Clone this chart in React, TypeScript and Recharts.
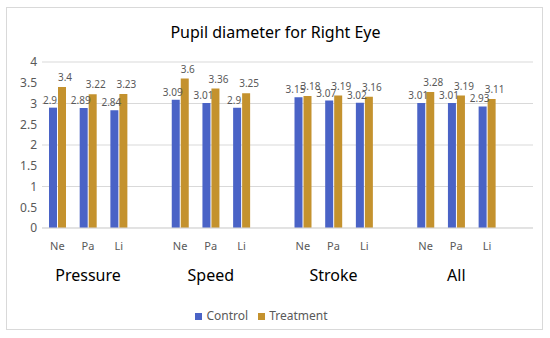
import React from 'react';
import {
    BarChart,
    Bar,
    XAxis,
    YAxis,
    CartesianGrid,
    Legend,
    LabelList,
} from 'recharts';

// Groups and sub-categories along the x axis
const GROUPS = ['Pressure', 'Speed', 'Stroke', 'All'];
const SUBS = ['Ne', 'Pa', 'Li'];

// Values per group, in SUBS order
const CONTROL = [2.9, 2.89, 2.84, 3.09, 3.01, 2.9, 3.15, 3.07, 3.02, 3.01, 3.01, 2.93];
const TREATMENT = [3.4, 3.22, 3.23, 3.6, 3.36, 3.25, 3.18, 3.19, 3.16, 3.28, 3.19, 3.11];

const Y_TICKS = [0, 0.5, 1, 1.5, 2, 2.5, 3, 3.5, 4];

const BLUE = '#4a63c6';
const GOLD = '#c4922e';
const TEXT = '#595959';
const GRID = '#d9d9d9';

// Build rows: three bars per group, then one empty slot
const chartData: { sub: string; group: string; control: number | null; treatment: number | null }[] = [];
GROUPS.forEach((g, gi) => {
    SUBS.forEach((s, si) => {
        chartData.push({
            sub: s,
            group: si === 1 ? g : '',
            control: CONTROL[gi * 3 + si],
            treatment: TREATMENT[gi * 3 + si],
        });
    });
    chartData.push({ sub: '', group: '', control: null, treatment: null });
});

const XTick = (props: any) => {
    const { x, y, index } = props;
    const row = chartData[index];
    if (!row) return null;
    return (
        <g>
            <text x={x} y={y + 14} textAnchor="middle" fontSize={11} fill={TEXT}>
                {row.sub}
            </text>
            {row.group && (
                <text x={x} y={y + 45} textAnchor="middle" fontSize={16} fill="#000">
                    {row.group}
                </text>
            )}
        </g>
    );
};

export default function App() {
    return (
        <div
            style={{
                position: 'absolute',
                left: 0,
                top: 0,
                width: 550,
                height: 338,
                background: '#fff',
                fontFamily: '"Noto Sans", sans-serif',
            }}
        >
            <div
                style={{
                    position: 'absolute',
                    left: 6,
                    top: 7,
                    width: 537,
                    height: 323,
                    border: `1px solid ${GRID}`,
                    boxSizing: 'border-box',
                }}
            />
            <div
                style={{
                    position: 'absolute',
                    top: 21,
                    left: 0,
                    width: 551,
                    textAlign: 'center',
                    fontSize: 16,
                    color: '#000',
                }}
            >
                Pupil diameter for Right Eye
            </div>
            <BarChart
                width={550}
                height={338}
                data={chartData}
                margin={{ top: 62, right: 17, bottom: 14, left: 0 }}
                barGap={1}
                style={{ position: 'absolute', left: 0, top: 0 }}
            >
                <CartesianGrid vertical={false} stroke={GRID} />
                <XAxis
                    dataKey="sub"
                    height={79}
                    interval={0}
                    tickLine={false}
                    axisLine={{ stroke: GRID }}
                    tick={<XTick />}
                />
                <YAxis
                    width={42}
                    domain={[0, 4]}
                    ticks={Y_TICKS}
                    axisLine={false}
                    tickLine={false}
                    tickSize={3}
                    tickMargin={2}
                    tick={{ fontSize: 12, fill: TEXT }}
                />
                <Legend
                    verticalAlign="bottom"
                    iconType="square"
                    iconSize={7}
                    wrapperStyle={{ fontSize: 12, color: TEXT }}
                    formatter={(v) => <span style={{ color: TEXT }}>{v}</span>}
                />
                <Bar dataKey="control" name="Control" fill={BLUE} barSize={8} isAnimationActive={false}>
                    <LabelList dataKey="control" position="top" offset={4} dx={-3} fontSize={10} fill={TEXT} />
                </Bar>
                <Bar dataKey="treatment" name="Treatment" fill={GOLD} barSize={8} isAnimationActive={false}>
                    <LabelList dataKey="treatment" position="top" offset={6} dx={3} fontSize={10} fill={TEXT} />
                </Bar>
            </BarChart>
        </div>
    );
}
